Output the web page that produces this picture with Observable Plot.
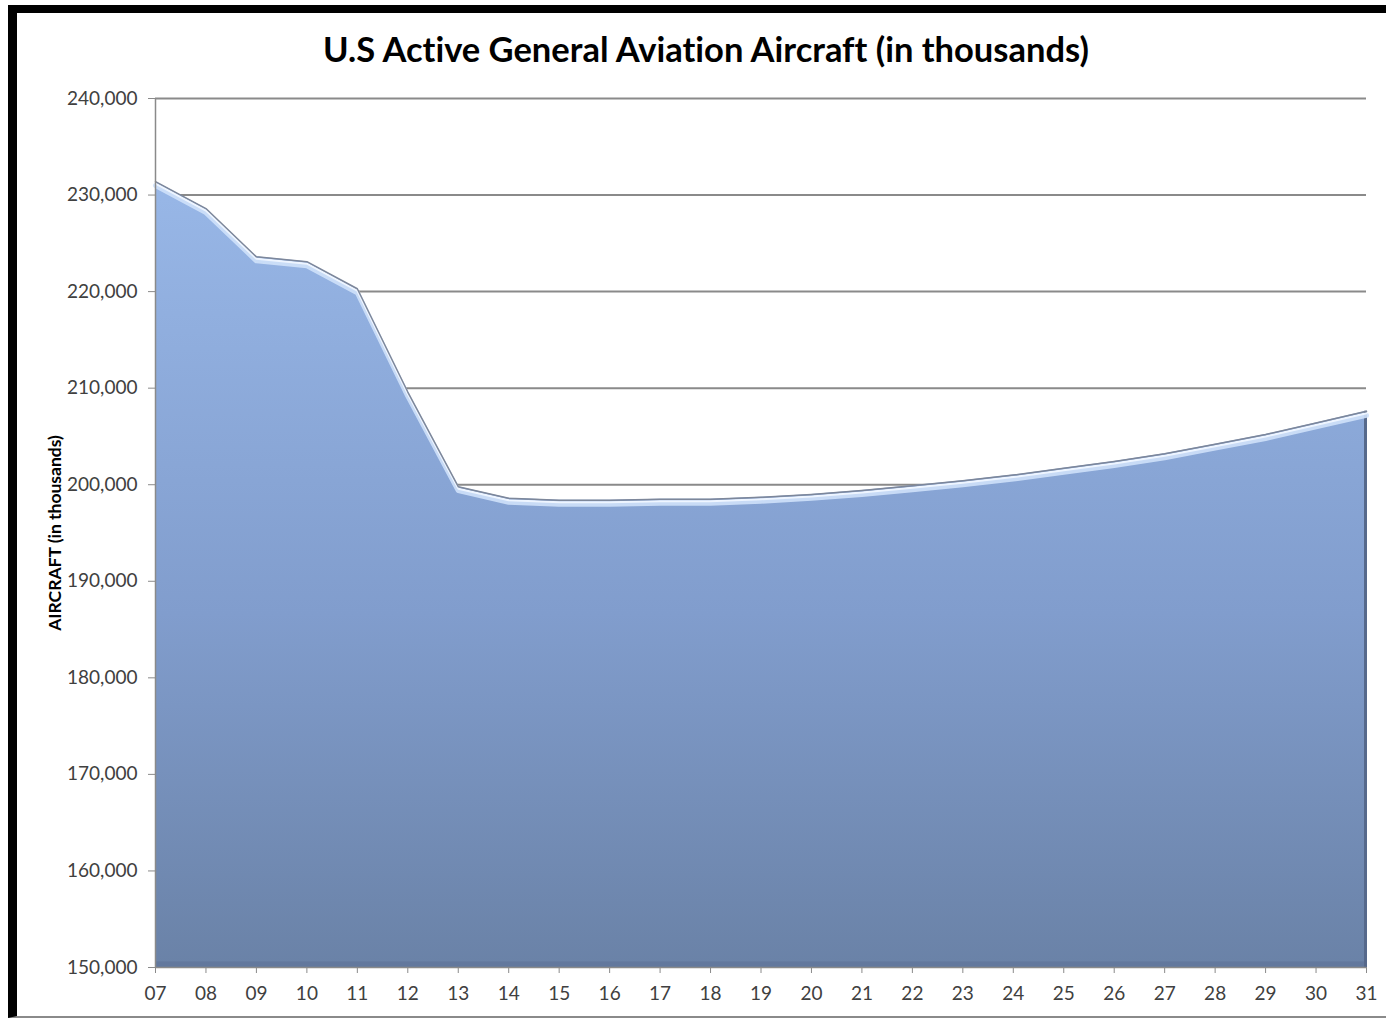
<!DOCTYPE html>
<html>
<head>
<meta charset="utf-8">
<script src="https://cdn.jsdelivr.net/npm/d3@7"></script>
<script src="https://cdn.jsdelivr.net/npm/@observablehq/plot@0.6"></script>
<style>
  body { margin: 0; background: #fff; width: 1386px; height: 1020px; overflow: hidden; position: relative;
         font-family: Lato, "Open Sans", sans-serif; font-variant-ligatures: none; }
  #frame { position: absolute; left: 8px; top: 5px; width: 1420px; height: 1013px; box-sizing: border-box;
           border-left: 9px solid #000; border-top: 8px solid #000; border-bottom: 2px solid #8a8a8a; }
  #title { position: absolute; left: 0; top: 29px; width: 1412px; text-align: center; font-weight: 700;
           font-size: 34.5px; line-height: 40px; color: #000; }
  #chart { position: absolute; left: 0; top: 75px; }
  #chart svg text { font-variant-ligatures: none; }
</style>
</head>
<body>
<div id="frame"></div>
<div id="title">U.S Active General Aviation Aircraft (in thousands)</div>
<div id="chart"></div>
<script>
// Fiscal years 2007–2031 (labelled by their last two digits)
const years = [2007, 2008, 2009, 2010, 2011, 2012, 2013, 2014, 2015, 2016, 2017, 2018, 2019,
               2020, 2021, 2022, 2023, 2024, 2025, 2026, 2027, 2028, 2029, 2030, 2031];

// Active general aviation aircraft
const aircraft = [231400, 228600, 223600, 223100, 220300, 209600, 199800, 198600, 198400, 198400,
                  198500, 198500, 198700, 199000, 199400, 199900, 200400, 201000, 201700, 202400,
                  203200, 204200, 205200, 206400, 207600];

// Value axis ticks
const yTicks = [150000, 160000, 170000, 180000, 190000, 200000, 210000, 220000, 230000, 240000];

const yAxisTitle = "AIRCRAFT (in thousands)";

const data = years.map((year, i) => ({year, value: aircraft[i]}));
const last = data[data.length - 1];

// Vertical gradient for the area fill
const gradientDefs = () => {
  const defs = d3.create("svg:defs");
  const lg = defs.append("linearGradient")
    .attr("id", "areaFill").attr("x1", 0).attr("y1", 0).attr("x2", 0).attr("y2", 1);
  lg.append("stop").attr("offset", "0%").attr("stop-color", "#98b7e7");
  lg.append("stop").attr("offset", "55%").attr("stop-color", "#819dcd");
  lg.append("stop").attr("offset", "100%").attr("stop-color", "#6a82a7");
  return defs.node();
};

const grid = "#8a8a8a";

const chart = Plot.plot({
  width: 1386,
  height: 945,
  marginLeft: 155,
  marginRight: 20,
  marginTop: 23,
  marginBottom: 53,
  style: { fontFamily: "Lato, 'Open Sans', sans-serif", fontSize: "19px", color: "#404040", background: "transparent", overflow: "visible" },
  x: { domain: [years[0], years[years.length - 1]] },
  y: { domain: [yTicks[0], yTicks[yTicks.length - 1]] },
  marks: [
    gradientDefs,
    Plot.ruleY(yTicks.slice(1), { stroke: grid, strokeWidth: 2 }),
    Plot.areaY(data, { x: "year", y1: yTicks[0], y2: "value", fill: "url(#areaFill)" }),
    // darker base and right edge of the filled shape
    Plot.ruleY([yTicks[0]], { stroke: "#5f7499", strokeWidth: 6, dy: -3, strokeOpacity: 0.7 }),
    Plot.ruleX([last], { x: "year", y1: yTicks[0], y2: "value", stroke: "#56698b", strokeWidth: 3, dx: -1 }),
    // bevel highlight just under the top edge
    Plot.line(data, { x: "year", y: "value", stroke: "#cfe1fa", strokeWidth: 5, dy: 4, strokeOpacity: 0.9 }),
    Plot.line(data, { x: "year", y: "value", stroke: "#eef5ff", strokeWidth: 2, dy: 2 }),
    Plot.line(data, { x: "year", y: "value", stroke: "#7d879a", strokeWidth: 1.5 }),
    // axis lines
    Plot.ruleX([years[0]], { stroke: grid, strokeWidth: 1.5 }),
    Plot.ruleY([yTicks[0]], { stroke: grid, strokeWidth: 1.5 }),
    Plot.axisY({ ticks: yTicks, tickFormat: d3.format(","), tickSize: 7, tickPadding: 11, stroke: grid, fill: "#404040", label: null }),
    Plot.axisX({ ticks: years, tickFormat: d => String(d).slice(2), tickSize: 6, tickPadding: 13, stroke: grid, fill: "#404040", label: null }),
    Plot.text([yAxisTitle], { frameAnchor: "left", dx: -100, rotate: -90, textAnchor: "middle",
                              fontWeight: "bold", fontSize: 17.5, fill: "#000" })
  ]
});

document.getElementById("chart").appendChild(chart);
</script>
</body>
</html>
